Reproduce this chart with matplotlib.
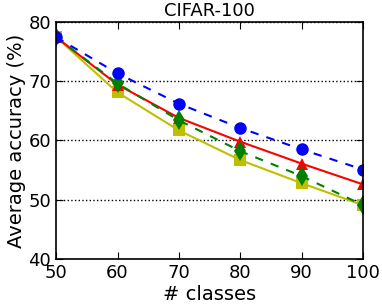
import matplotlib
matplotlib.use('Agg')
import matplotlib.pyplot as plt

classes = [50, 60, 70, 80, 90, 100]
blue_acc = [77.4, 71.3, 66.2, 62.1, 58.5, 55.1]
red_acc = [77.4, 69.4, 63.8, 59.8, 56.1, 52.6]
green_acc = [77.4, 69.6, 63.4, 58.2, 54.0, 49.1]
yellow_acc = [77.4, 68.1, 61.7, 56.7, 52.8, 49.1]

plt.rcParams['font.family'] = 'DejaVu Sans'
fig = plt.figure(figsize=(3.82, 3.07), dpi=100)
ax = fig.add_axes([0.147, 0.156, 0.803, 0.773])

ax.plot(classes, yellow_acc, '-', color=(0.75, 0.75, 0), marker='s', markersize=9, markeredgewidth=0, lw=1.5)
ax.plot(classes, red_acc, '-', color='red', marker='^', markersize=9, markeredgewidth=0, lw=1.5)
ax.plot(classes, green_acc, color=(0, 0.5, 0), marker='d', markersize=10, markeredgewidth=0, lw=1.5,
        linestyle=(0, (4, 4)))
ax.plot(classes, blue_acc, color='blue', marker='o', markersize=9, markeredgewidth=0, lw=1.5,
        linestyle=(0, (4, 4)))

ax.set_xlim(50, 100)
ax.set_ylim(40, 80)
ax.set_xticks(classes)
ax.set_yticks([40, 50, 60, 70, 80])
ax.yaxis.grid(True, linestyle=':', color='black', lw=1)
ax.tick_params(direction='in', top=True, right=True, labelsize=13, length=5)
for s in ax.spines.values():
    s.set_linewidth(1.2)
ax.set_xlabel('# classes', fontsize=14, labelpad=2)
ax.set_ylabel('Average accuracy (%)', fontsize=14, labelpad=2)
ax.set_title('CIFAR-100', fontsize=13, pad=4)

fig.savefig('out.png', dpi=100)
